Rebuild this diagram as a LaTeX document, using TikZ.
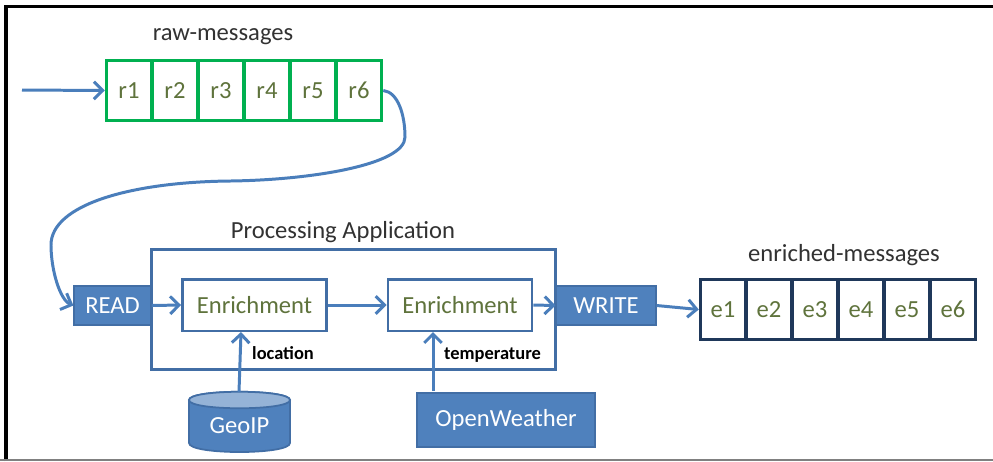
\documentclass[tikz,border=0pt]{standalone}
\usepackage{fontspec}
\setmainfont{Carlito}
\usetikzlibrary{arrows.meta}
\definecolor{boxblue}{RGB}{79,129,189}
\definecolor{darkblue}{RGB}{66,110,165}
\definecolor{linkblue}{RGB}{74,126,187}
\definecolor{cellgreen}{RGB}{0,176,80}
\definecolor{cellnavy}{RGB}{31,56,90}
\definecolor{oligreen}{RGB}{95,115,60}
\definecolor{titlegray}{RGB}{50,50,50}
\tikzset{
	link/.style={draw=linkblue, line width=1.7pt, -{Straight Barb[length=5pt,width=10pt]}},
	rawcell/.style={draw=cellgreen, line width=1.6pt, text=oligreen, minimum width=26pt, minimum height=34.5pt, inner sep=0pt, font=\fontsize{14}{16}\selectfont},
	enrcell/.style={rawcell, draw=cellnavy},
	enrbox/.style={draw=darkblue, line width=1.6pt, fill=white, text=oligreen, minimum width=82pt, minimum height=29.5pt, inner sep=0pt, font=\fontsize{14}{16}\selectfont},
	solidbox/.style={draw=darkblue, line width=1pt, fill=boxblue, text=white, inner sep=0pt, font=\fontsize{14}{16}\selectfont},
	title/.style={text=titlegray, font=\fontsize{14}{16}\selectfont},
	small/.style={text=black, font=\bfseries\fontsize{10.5}{12}\selectfont}
}
\begin{document}
\begin{tikzpicture}[x=0.02cm,y=-0.02cm]
	\useasboundingbox (0,0) rectangle (993,461);
	% frame
	\fill[white] (0,0) rectangle (993,461);
	\draw[line width=2pt, black] (6,461) -- (6,6.5) -- (993,6.5);
	\draw[line width=0.8pt, gray] (0,460) -- (993,460);
	% raw topic
	\node[title] (rawtitle) at (223,37) {raw-messages};
	\foreach \i in {1,...,6}
		\node[rawcell] (r\i) at ({106+46*(\i-1)+23},90.5) {r\i};
	\coordinate (rawin) at (22,90);
	\draw[link] (rawin) -- (r1.west);
	% application
	\node[draw=darkblue, line width=1.6pt, minimum width=229.6pt, minimum height=68.6pt, inner sep=0pt] (app) at (353.5,309.5) {};
	\node[title] (apptitle) at (343,232) {Processing Application};
	\node[solidbox, minimum width=43.5pt, minimum height=22pt] (read) at (112.5,305.5) {READ};
	\node[solidbox, minimum width=56.5pt, minimum height=22pt] (write) at (606,305.5) {WRITE};
	\node[enrbox] (enr1) at (254.5,305) {Enrichment};
	\node[enrbox] (enr2) at (460,305) {Enrichment};
	\node[solidbox, minimum width=101pt, minimum height=30.5pt] (weather) at (506,420) {OpenWeather};
	% database
	\draw[draw=darkblue, line width=1pt, fill=boxblue] (189,400) -- (189,443) .. controls (189,455) and (290,455) .. (290,443) -- (290,400) .. controls (290,389) and (189,389) .. (189,400) -- cycle;
	\draw[draw=darkblue, line width=1pt, fill=boxblue!60] (189,400) .. controls (189,389) and (290,389) .. (290,400) .. controls (290,411) and (189,411) .. (189,400) -- cycle;
	\node[text=white, inner sep=0pt, font=\fontsize{14}{16}\selectfont] (geoip) at (239.5,426) {GeoIP};
	% enriched topic
	\node[title] (enrtitle) at (844,255) {enriched-messages};
	\foreach \i in {1,...,6}
		\node[enrcell] (e\i) at ({700+46*(\i-1)+23},309.5) {e\i};
	% connectors
	\coordinate (geotop) at (239,392);
	\coordinate (geoin) at (241,332);
	\coordinate (owtop) at (433,391);
	\coordinate (owin) at (433,332);
	\draw[link] (r6.east) .. controls (398,92) and (405,115) .. (405,137) .. controls (405,165) and (310,180) .. (230,181) .. controls (130,182) and (51,205) .. (51,245) .. controls (51,270) and (60,300) .. (read.west);
	\draw[link] (read.east) -- (enr1.west);
	\draw[link] (enr1.east) -- (enr2.west);
	\draw[link] (enr2.east) -- (write.west);
	\draw[link] (write.east) -- (e1.west);
	\draw[link] (geotop) -- (geoin);
	\draw[link] (owtop) -- (owin);
	\node[small, anchor=west] (loclabel) at (246,353) {location};
	\node[small, anchor=west] (templabel) at (438,355) {temperature};
\end{tikzpicture}
\end{document}
